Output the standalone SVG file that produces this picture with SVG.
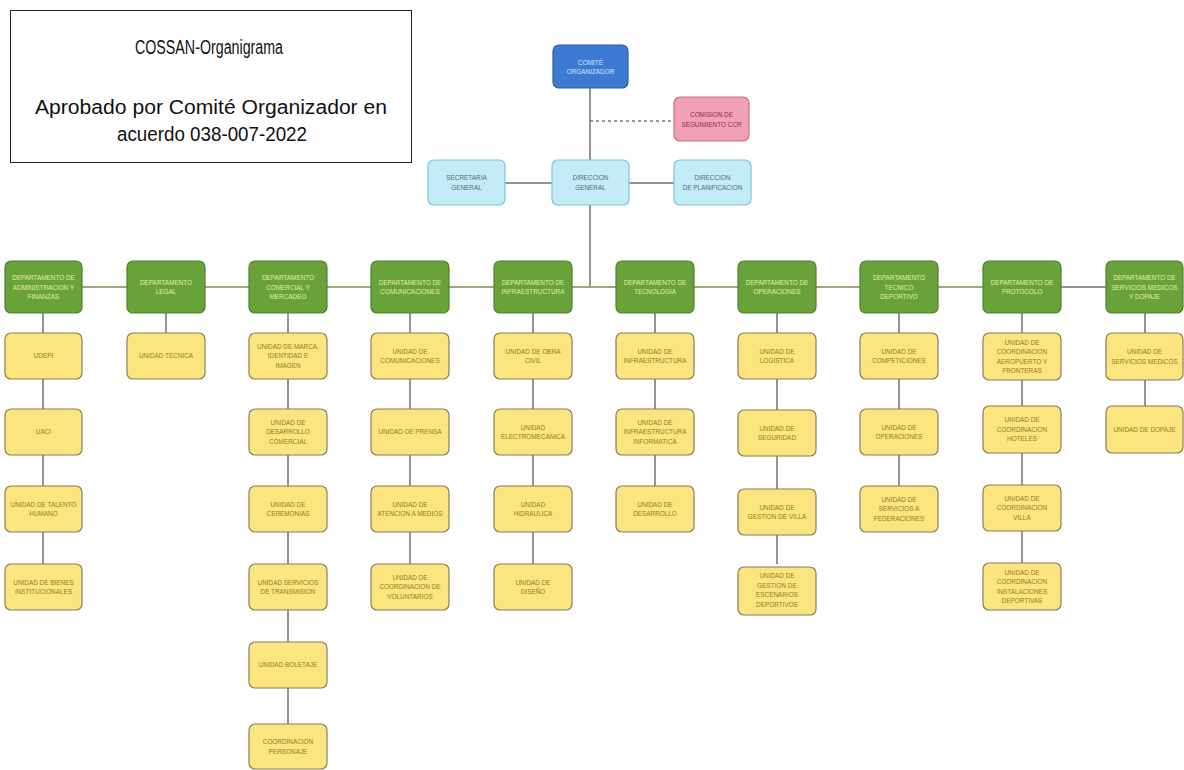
<svg xmlns="http://www.w3.org/2000/svg" width="1184" height="770" viewBox="0 0 1184 770">
<style>
text{font-family:"Liberation Sans",Arial,sans-serif;text-anchor:middle}
.t{font-size:20px;fill:#111}
.u rect{fill:#fce47f;stroke:#8c7d58;stroke-width:1.2}
.u text{font-size:6.4px;fill:#9a7a22}
.d rect{fill:#69a23b;stroke:#4f7f2c;stroke-width:1.2}
.d text{font-size:6.4px;fill:#e4f09c}
.cy rect{fill:#c4ecf7;stroke:#7cc3db;stroke-width:1.2}
.cy text{font-size:6.4px;fill:#4d6b80}
.ln{stroke:#707070;stroke-width:1.5;fill:none}
.gl{stroke:#9bab78;stroke-width:1.8;fill:none}
</style>
<rect width="1184" height="770" fill="#fff"/>
<g id="title">
<rect x="10.5" y="10.5" width="401" height="152" fill="#fff" stroke="#222" stroke-width="1"/>
<text class="t" x="209" y="54" textLength="148" lengthAdjust="spacingAndGlyphs">COSSAN-Organigrama</text>
<text class="t" x="211" y="114" textLength="352" lengthAdjust="spacingAndGlyphs">Aprobado por Comité Organizador en</text>
<text class="t" x="212" y="141" textLength="190" lengthAdjust="spacingAndGlyphs">acuerdo 038-007-2022</text>
</g>
<g id="connectors">
<line class="ln" x1="590" y1="88" x2="590" y2="287"/>
<line x1="590" y1="121" x2="672" y2="121" stroke="#777" stroke-width="1.3" stroke-dasharray="3,3"/>
<line class="ln" x1="505" y1="183" x2="552" y2="183"/>
<line class="ln" x1="629" y1="183" x2="674" y2="183"/>
<line class="gl" x1="82" y1="287" x2="1061" y2="287"/>
<line class="ln" x1="1061" y1="287" x2="1106" y2="287"/>
<line class="ln" x1="43" y1="313" x2="43" y2="564"/>
<line class="ln" x1="166" y1="313" x2="166" y2="333"/>
<line class="ln" x1="288" y1="313" x2="288" y2="724"/>
<line class="ln" x1="410" y1="313" x2="410" y2="564"/>
<line class="ln" x1="533" y1="313" x2="533" y2="564"/>
<line class="ln" x1="655" y1="313" x2="655" y2="486"/>
<line class="ln" x1="777" y1="313" x2="777" y2="564"/>
<line class="ln" x1="899" y1="313" x2="899" y2="486"/>
<line class="ln" x1="1022" y1="313" x2="1022" y2="564"/>
<line class="ln" x1="1145" y1="313" x2="1145" y2="409"/>
</g>
<g id="comite">
<rect x="553" y="45" width="75" height="43" rx="6" fill="#3d7bd2" stroke="#2b5ea6" stroke-width="1.2"/>
<text x="590.5" y="64.5" font-size="6.4" fill="#d6e4ff">COMITÉ<tspan x="590.5" dy="9.5">ORGANIZADOR</tspan></text>
</g>
<g id="comision">
<rect x="674" y="97" width="75" height="44" rx="6" fill="#f2a0b5" stroke="#c9708a" stroke-width="1.2"/>
<text x="711.5" y="117" font-size="6.4" fill="#8c2e4c">COMISION DE<tspan x="711.5" dy="9.5">SEGUIMIENTO CCR</tspan></text>
</g>
<g id="secretaria" class="cy">
<rect x="428" y="160" width="77" height="45" rx="6"/>
<text x="466.5" y="180">SECRETARIA<tspan x="466.5" dy="9.5">GENERAL</tspan></text>
</g>
<g id="direccion-general" class="cy">
<rect x="552" y="160" width="77" height="45" rx="6"/>
<text x="590.5" y="180">DIRECCION<tspan x="590.5" dy="9.5">GENERAL</tspan></text>
</g>
<g id="direccion-planificacion" class="cy">
<rect x="674" y="160" width="77" height="45" rx="6"/>
<text x="712.5" y="180">DIRECCION<tspan x="712.5" dy="9.5">DE PLANIFICACION</tspan></text>
</g>
<g id="d1" class="d"><rect x="5" y="261" width="77" height="52" rx="6"/><text x="43.5" y="280">DEPARTAMENTO DE<tspan x="43.5" dy="9.5">ADMINISTRACION Y</tspan><tspan x="43.5" dy="9.5">FINANZAS</tspan></text></g>
<g id="d2" class="d"><rect x="127" y="261" width="78" height="52" rx="6"/><text x="166" y="284.5">DEPARTAMENTO<tspan x="166" dy="9.5">LEGAL</tspan></text></g>
<g id="d3" class="d"><rect x="249" y="261" width="78" height="52" rx="6"/><text x="288" y="280">DEPARTAMENTO<tspan x="288" dy="9.5">COMERCIAL Y</tspan><tspan x="288" dy="9.5">MERCADEO</tspan></text></g>
<g id="d4" class="d"><rect x="371" y="261" width="78" height="52" rx="6"/><text x="410" y="284.5">DEPARTAMENTO DE<tspan x="410" dy="9.5">COMUNICACIONES</tspan></text></g>
<g id="d5" class="d"><rect x="494" y="261" width="78" height="52" rx="6"/><text x="533" y="284.5">DEPARTAMENTO DE<tspan x="533" dy="9.5">INFRAESTRUCTURA</tspan></text></g>
<g id="d6" class="d"><rect x="616" y="261" width="78" height="52" rx="6"/><text x="655" y="284.5">DEPARTAMENTO DE<tspan x="655" dy="9.5">TECNOLOGIA</tspan></text></g>
<g id="d7" class="d"><rect x="738" y="261" width="78" height="52" rx="6"/><text x="777" y="284.5">DEPARTAMENTO DE<tspan x="777" dy="9.5">OPERACIONES</tspan></text></g>
<g id="d8" class="d"><rect x="860" y="261" width="78" height="52" rx="6"/><text x="899" y="280">DEPARTAMENTO<tspan x="899" dy="9.5">TECNICO</tspan><tspan x="899" dy="9.5">DEPORTIVO</tspan></text></g>
<g id="d9" class="d"><rect x="983" y="261" width="78" height="52" rx="6"/><text x="1022" y="284.5">DEPARTAMENTO DE<tspan x="1022" dy="9.5">PROTOCOLO</tspan></text></g>
<g id="d10" class="d"><rect x="1106" y="261" width="77" height="52" rx="6"/><text x="1144.5" y="280">DEPARTAMENTO DE<tspan x="1144.5" dy="9.5">SERVICIOS MEDICOS</tspan><tspan x="1144.5" dy="9.5">Y DOPAJE</tspan></text></g>

<g id="u1-1" class="u"><rect x="5" y="333" width="77" height="46" rx="6"/><text x="43.5" y="358.3">UDEPI</text></g>
<g id="u1-2" class="u"><rect x="5" y="409" width="77" height="46" rx="6"/><text x="43.5" y="434.3">UACI</text></g>
<g id="u1-3" class="u"><rect x="5" y="486" width="77" height="46" rx="6"/><text x="43.5" y="506.5">UNIDAD DE TALENTO<tspan x="43.5" dy="9.5">HUMANO</tspan></text></g>
<g id="u1-4" class="u"><rect x="5" y="564" width="77" height="46" rx="6"/><text x="43.5" y="584.5">UNIDAD DE BIENES<tspan x="43.5" dy="9.5">INSTITUCIONALES</tspan></text></g>

<g id="u2-1" class="u"><rect x="127" y="333" width="78" height="46" rx="6"/><text x="166" y="358.3">UNIDAD TECNICA</text></g>

<g id="u3-1" class="u"><rect x="249" y="333" width="78" height="46" rx="6"/><text x="288" y="348.8">UNIDAD DE MARCA,<tspan x="288" dy="9.5">IDENTIDAD E</tspan><tspan x="288" dy="9.5">IMAGEN</tspan></text></g>
<g id="u3-2" class="u"><rect x="249" y="409" width="78" height="46" rx="6"/><text x="288" y="424.8">UNIDAD DE<tspan x="288" dy="9.5">DESARROLLO</tspan><tspan x="288" dy="9.5">COMERCIAL</tspan></text></g>
<g id="u3-3" class="u"><rect x="249" y="486" width="78" height="46" rx="6"/><text x="288" y="506.5">UNIDAD DE<tspan x="288" dy="9.5">CEREMONIAS</tspan></text></g>
<g id="u3-4" class="u"><rect x="249" y="564" width="78" height="46" rx="6"/><text x="288" y="584.5">UNIDAD SERVICIOS<tspan x="288" dy="9.5">DE TRANSMISION</tspan></text></g>
<g id="u3-5" class="u"><rect x="249" y="642" width="78" height="46" rx="6"/><text x="288" y="667.3">UNIDAD BOLETAJE</text></g>
<g id="u3-6" class="u"><rect x="249" y="724" width="78" height="45" rx="6"/><text x="288" y="744">COORDINACION<tspan x="288" dy="9.5">PERSONAJE</tspan></text></g>

<g id="u4-1" class="u"><rect x="371" y="333" width="78" height="46" rx="6"/><text x="410" y="353.5">UNIDAD DE<tspan x="410" dy="9.5">COMUNICACIONES</tspan></text></g>
<g id="u4-2" class="u"><rect x="371" y="409" width="78" height="46" rx="6"/><text x="410" y="434.3">UNIDAD DE PRENSA</text></g>
<g id="u4-3" class="u"><rect x="371" y="486" width="78" height="46" rx="6"/><text x="410" y="506.5">UNIDAD DE<tspan x="410" dy="9.5">ATENCION A MEDIOS</tspan></text></g>
<g id="u4-4" class="u"><rect x="371" y="564" width="78" height="46" rx="6"/><text x="410" y="579.8">UNIDAD DE<tspan x="410" dy="9.5">COORDINACION DE</tspan><tspan x="410" dy="9.5">VOLUNTARIOS</tspan></text></g>

<g id="u5-1" class="u"><rect x="494" y="333" width="78" height="46" rx="6"/><text x="533" y="353.5">UNIDAD DE OBRA<tspan x="533" dy="9.5">CIVIL</tspan></text></g>
<g id="u5-2" class="u"><rect x="494" y="409" width="78" height="46" rx="6"/><text x="533" y="429.5">UNIDAD<tspan x="533" dy="9.5">ELECTROMECANICA</tspan></text></g>
<g id="u5-3" class="u"><rect x="494" y="486" width="78" height="46" rx="6"/><text x="533" y="506.5">UNIDAD<tspan x="533" dy="9.5">HIDRAULICA</tspan></text></g>
<g id="u5-4" class="u"><rect x="494" y="564" width="78" height="46" rx="6"/><text x="533" y="584.5">UNIDAD DE<tspan x="533" dy="9.5">DISEÑO</tspan></text></g>

<g id="u6-1" class="u"><rect x="616" y="333" width="78" height="46" rx="6"/><text x="655" y="353.5">UNIDAD DE<tspan x="655" dy="9.5">INFRAESTRUCTURA</tspan></text></g>
<g id="u6-2" class="u"><rect x="616" y="409" width="78" height="46" rx="6"/><text x="655" y="424.8">UNIDAD DE<tspan x="655" dy="9.5">INFRAESTRUCTURA</tspan><tspan x="655" dy="9.5">INFORMATICA</tspan></text></g>
<g id="u6-3" class="u"><rect x="616" y="486" width="78" height="46" rx="6"/><text x="655" y="506.5">UNIDAD DE<tspan x="655" dy="9.5">DESARROLLO</tspan></text></g>

<g id="u7-1" class="u"><rect x="738" y="333" width="78" height="46" rx="6"/><text x="777" y="353.5">UNIDAD DE<tspan x="777" dy="9.5">LOGISTICA</tspan></text></g>
<g id="u7-2" class="u"><rect x="738" y="410" width="78" height="46" rx="6"/><text x="777" y="430.5">UNIDAD DE<tspan x="777" dy="9.5">SEGURIDAD</tspan></text></g>
<g id="u7-3" class="u"><rect x="738" y="489" width="78" height="46" rx="6"/><text x="777" y="509.5">UNIDAD DE<tspan x="777" dy="9.5">GESTION DE VILLA</tspan></text></g>
<g id="u7-4" class="u"><rect x="738" y="567" width="78" height="48" rx="6"/><text x="777" y="578">UNIDAD DE<tspan x="777" dy="9.5">GESTION DE</tspan><tspan x="777" dy="9.5">ESCENARIOS</tspan><tspan x="777" dy="9.5">DEPORTIVOS</tspan></text></g>

<g id="u8-1" class="u"><rect x="860" y="333" width="78" height="46" rx="6"/><text x="899" y="353.5">UNIDAD DE<tspan x="899" dy="9.5">COMPETICIONES</tspan></text></g>
<g id="u8-2" class="u"><rect x="860" y="409" width="78" height="46" rx="6"/><text x="899" y="429.5">UNIDAD DE<tspan x="899" dy="9.5">OPERACIONES</tspan></text></g>
<g id="u8-3" class="u"><rect x="860" y="486" width="78" height="46" rx="6"/><text x="899" y="501.8">UNIDAD DE<tspan x="899" dy="9.5">SERVICIOS A</tspan><tspan x="899" dy="9.5">FEDERACIONES</tspan></text></g>

<g id="u9-1" class="u"><rect x="983" y="333" width="78" height="47" rx="6"/><text x="1022" y="344.5">UNIDAD DE<tspan x="1022" dy="9.5">COORDINACION</tspan><tspan x="1022" dy="9.5">AEROPUERTO Y</tspan><tspan x="1022" dy="9.5">FRONTERAS</tspan></text></g>
<g id="u9-2" class="u"><rect x="983" y="406" width="78" height="47" rx="6"/><text x="1022" y="422.3">UNIDAD DE<tspan x="1022" dy="9.5">COORDINACION</tspan><tspan x="1022" dy="9.5">HOTELES</tspan></text></g>
<g id="u9-3" class="u"><rect x="983" y="485" width="78" height="46" rx="6"/><text x="1022" y="500.8">UNIDAD DE<tspan x="1022" dy="9.5">COORDINACION</tspan><tspan x="1022" dy="9.5">VILLA</tspan></text></g>
<g id="u9-4" class="u"><rect x="983" y="563" width="78" height="47" rx="6"/><text x="1022" y="574.5">UNIDAD DE<tspan x="1022" dy="9.5">COORDINACION</tspan><tspan x="1022" dy="9.5">INSTALACIONES</tspan><tspan x="1022" dy="9.5">DEPORTIVAS</tspan></text></g>

<g id="u10-1" class="u"><rect x="1106" y="333" width="77" height="47" rx="6"/><text x="1144.5" y="354">UNIDAD DE<tspan x="1144.5" dy="9.5">SERVICIOS MEDICOS</tspan></text></g>
<g id="u10-2" class="u"><rect x="1106" y="406" width="77" height="47" rx="6"/><text x="1144.5" y="431.8">UNIDAD DE DOPAJE</text></g>
</svg>
